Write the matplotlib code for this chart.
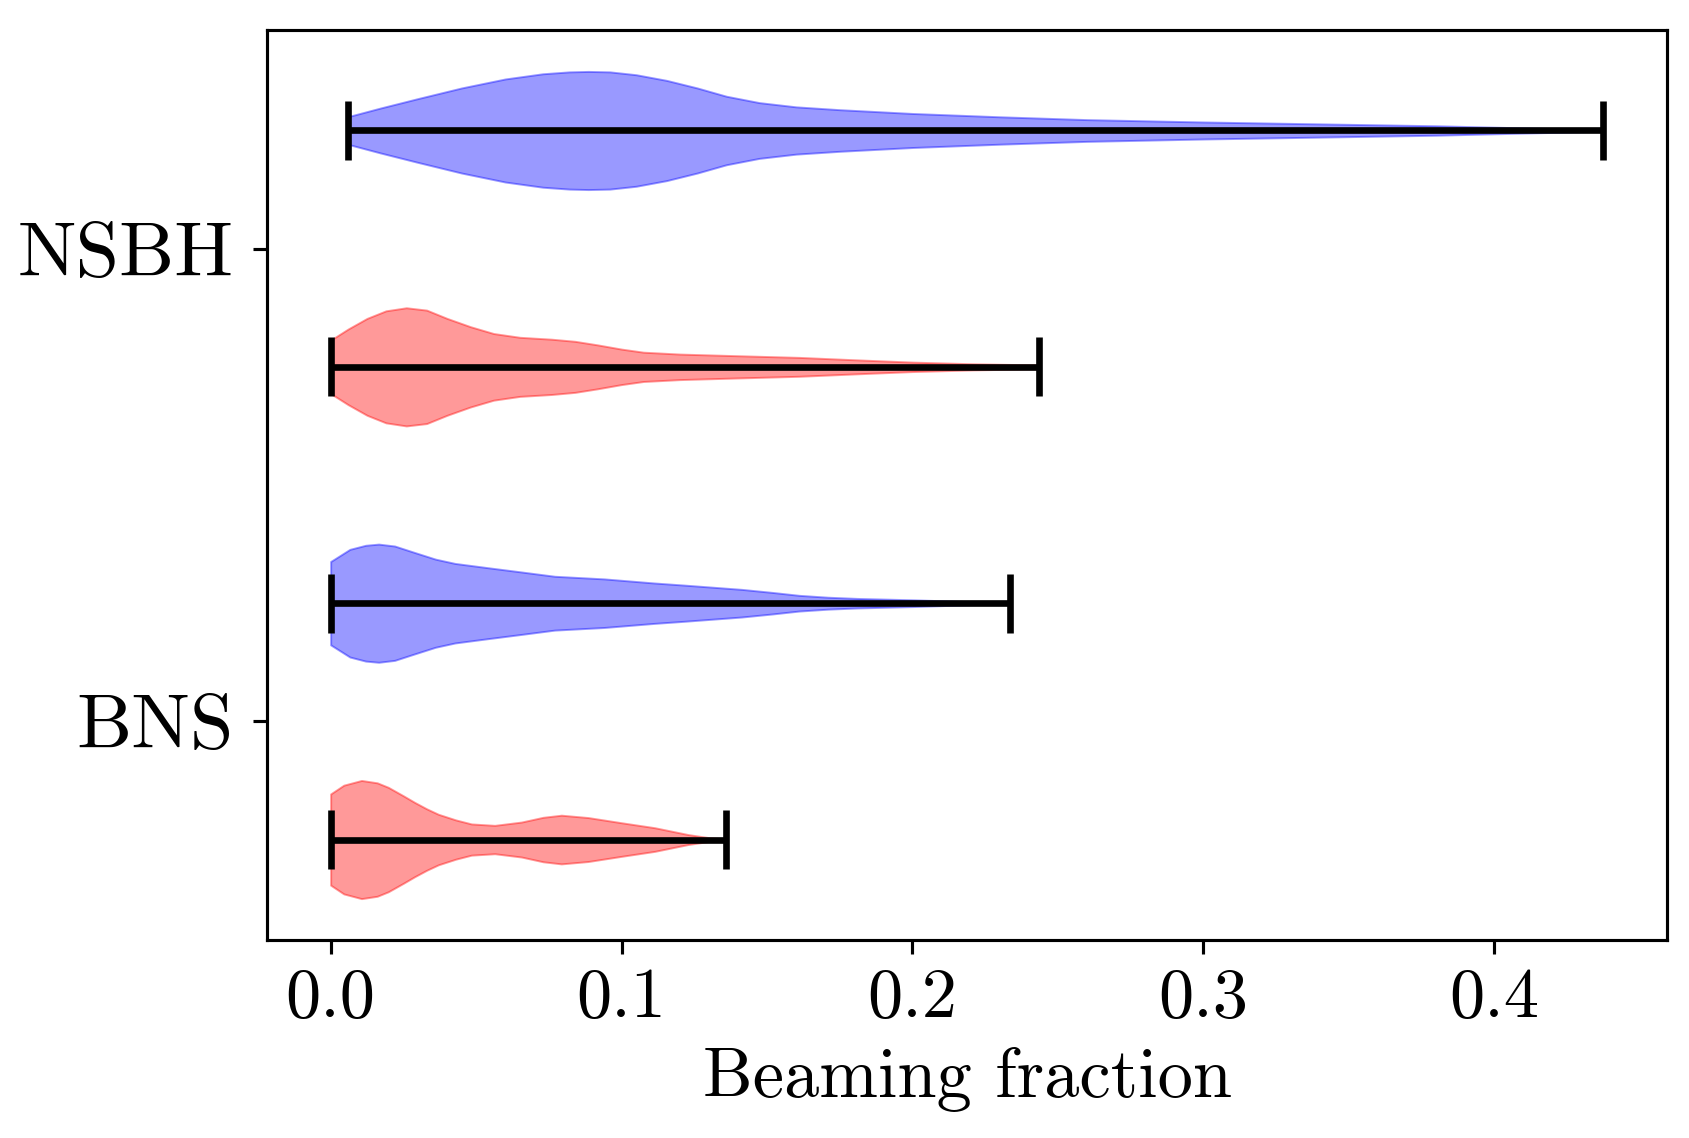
import numpy as np
import matplotlib
matplotlib.use("Agg")
import matplotlib.pyplot as plt

plt.rcParams["font.family"] = "serif"
plt.rcParams["font.serif"] = ["cmr10"]
plt.rcParams["mathtext.fontset"] = "cm"
plt.rcParams["axes.formatter.use_mathtext"] = True

# Violin outlines: x = beaming fraction, w = relative half-width
bns_red_x = [0.0, 0.0045, 0.0106, 0.0160, 0.0198, 0.0250, 0.0289, 0.0330, 0.037, 0.0430, 0.0484,
             0.0564, 0.0656, 0.0730, 0.0793, 0.0885, 0.100, 0.1114, 0.1229, 0.1300, 0.1358]
bns_red_w = [0.193, 0.230, 0.250, 0.240, 0.221, 0.185, 0.157, 0.130, 0.107, 0.083, 0.066,
             0.060, 0.074, 0.094, 0.103, 0.093, 0.071, 0.050, 0.021, 0.008, 0.003]

bns_blue_x = [0.0, 0.0066, 0.0120, 0.0165, 0.022, 0.0283, 0.036, 0.0427, 0.054, 0.0656, 0.077,
              0.094, 0.111, 0.1215, 0.1413, 0.152, 0.161, 0.171, 0.181, 0.2008, 0.2206, 0.2336]
bns_blue_w = [0.175, 0.226, 0.243, 0.248, 0.240, 0.215, 0.185, 0.167, 0.149, 0.131, 0.113,
              0.102, 0.085, 0.076, 0.058, 0.045, 0.033, 0.025, 0.020, 0.014, 0.006, 0.003]

nsbh_red_x = [0.0, 0.006, 0.0125, 0.019, 0.026, 0.033, 0.040, 0.048, 0.056, 0.065, 0.0759,
              0.084, 0.0917, 0.100, 0.1075, 0.120, 0.140, 0.161, 0.180, 0.200, 0.2206, 0.2434]
nsbh_red_w = [0.113, 0.160, 0.205, 0.237, 0.250, 0.240, 0.205, 0.170, 0.141, 0.125, 0.117,
              0.108, 0.093, 0.075, 0.062, 0.054, 0.047, 0.040, 0.030, 0.020, 0.013, 0.008]

nsbh_blue_x = [0.0061, 0.0171, 0.0300, 0.0450, 0.0600, 0.0729, 0.0820, 0.0886, 0.0960, 0.1050,
               0.1155, 0.1260, 0.1360, 0.1473, 0.1600, 0.1750, 0.2000, 0.2300, 0.2600, 0.3000,
               0.3400, 0.3800, 0.4100, 0.4375]
nsbh_blue_w = [0.059, 0.095, 0.135, 0.180, 0.218, 0.240, 0.248, 0.250, 0.248, 0.236,
               0.212, 0.180, 0.145, 0.118, 0.100, 0.088, 0.072, 0.058, 0.046, 0.036,
               0.028, 0.020, 0.011, 0.003]

groups = [(bns_red_x, bns_red_w), (bns_blue_x, bns_blue_w),
          (nsbh_red_x, nsbh_red_w), (nsbh_blue_x, nsbh_blue_w)]
colors = ["red", "blue", "red", "blue"]
positions = [1, 2, 3, 4]
tick_pos = [1.5, 3.5]
tick_labels = ["BNS", "NSBH"]

vpstats = []
for xs, ws in groups:
    xs = np.array(xs); ws = np.array(ws)
    vpstats.append({"coords": xs, "vals": ws, "mean": np.average(xs, weights=ws),
                    "median": np.median(xs), "min": xs[0], "max": xs[-1]})

dpi = 281.5
fig = plt.figure(figsize=(1689 / dpi, 1138 / dpi), dpi=dpi)
ax = fig.add_axes([0.1581, 0.1740, 0.8289, 0.7996])

parts = ax.violin(vpstats, positions=positions, orientation="horizontal", widths=0.5,
                  showmeans=False, showmedians=False, showextrema=True)
for body, c in zip(parts["bodies"], colors):
    body.set_facecolor(c)
    body.set_edgecolor(c)
    body.set_alpha(0.4)
    body.set_linewidth(0.5)
for key in ("cmins", "cmaxes", "cbars"):
    parts[key].set_color("black")
    parts[key].set_linewidth(1.7)

ax.set_yticks(tick_pos)
ax.set_yticklabels(tick_labels, fontsize=20)
ax.tick_params(axis="y", pad=5)
ax.tick_params(axis="x", labelsize=18)
ax.set_xticks([0.0, 0.1, 0.2, 0.3, 0.4])
ax.set_xticklabels(["0.0", "0.1", "0.2", "0.3", "0.4"])
ax.set_xlabel("Beaming fraction", fontsize=18)

fig.savefig("out.png", dpi=dpi)
